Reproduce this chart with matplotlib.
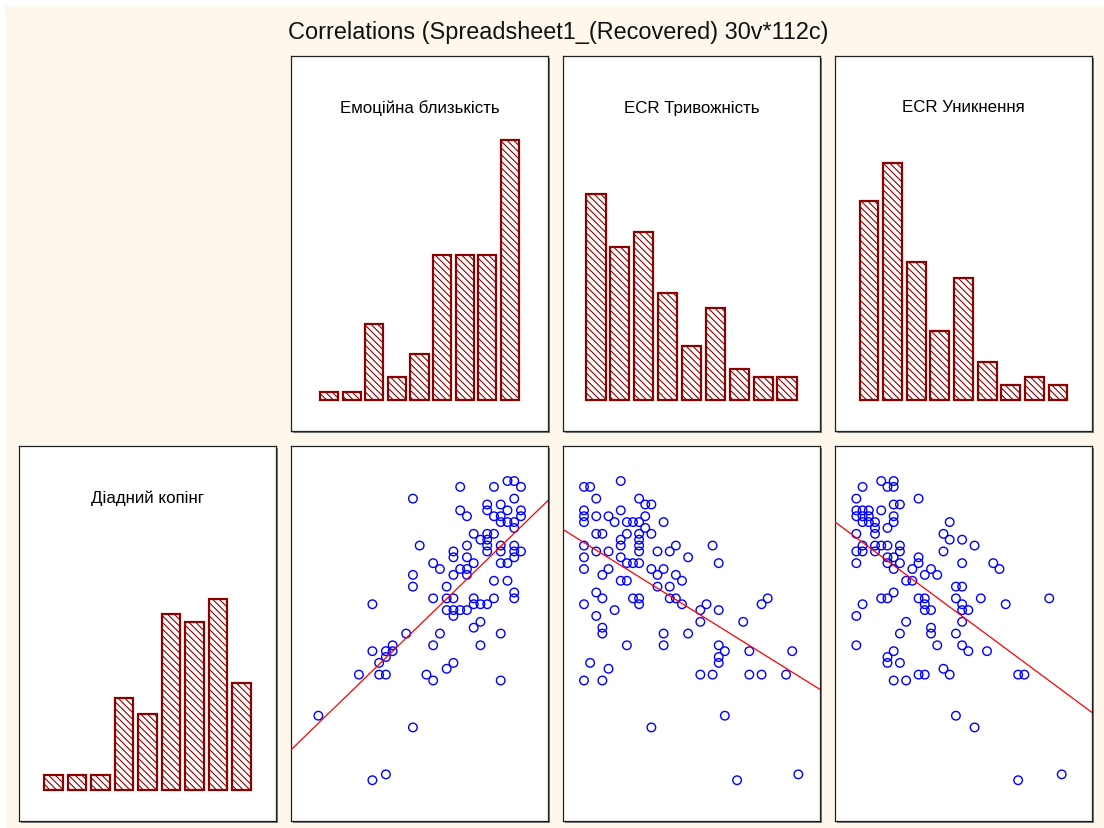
import numpy as np
import matplotlib
matplotlib.use("Agg")
import matplotlib.pyplot as plt
from matplotlib.patches import Rectangle

# ---------------- data ----------------
title = "Correlations (Spreadsheet1_(Recovered) 30v*112c)"
var_names = ["Емоційна близькість", "ECR Тривожність", "ECR Уникнення"]
y_name = "Діадний копінг"

# histogram counts (9 bins each)
emo_counts = [1, 1, 10, 3, 6, 19, 19, 19, 34]
anx_counts = [27, 20, 22, 14, 7, 12, 4, 3, 3]
avo_counts = [26, 31, 18, 9, 16, 5, 2, 3, 2]
dyad_counts = [2, 2, 2, 12, 10, 23, 22, 25, 14]

# scatter 1: Емоційна близькість (x) vs Діадний копінг (y, grid rows from top)
emo_x = [28, 29, 21, 26, 30, 14, 29, 25, 27, 21, 25, 28, 30, 22, 26, 27, 30, 27, 28, 29, 29,
         23, 25, 26, 24, 25, 15, 22, 25, 27, 29, 20, 25, 27, 29, 30, 20, 22, 29, 17, 23, 27, 28,
         18, 21, 22, 14, 20, 22, 26, 28, 14, 19, 29, 17, 19, 20, 23, 26, 29, 8, 23, 24, 25,
         19, 20, 21, 22, 20, 24, 23, 13, 18, 27, 11, 17, 24, 8, 10, 11, 10, 9, 20, 19,
         6, 9, 10, 16, 17, 27, 0, 14, 10, 8]
emo_row = [0, 0, 1, 1, 1, 3, 3, 4, 4, 5, 5, 5, 5, 6, 6, 6, 6, 7, 7, 7, 8,
           9, 9, 9, 10, 10, 11, 11, 11, 11, 11, 12, 12, 12, 12, 12, 13, 13, 13, 14, 14, 14, 14,
           15, 15, 15, 16, 16, 16, 17, 17, 18, 18, 19, 20, 20, 20, 20, 20, 20, 21, 21, 21, 21,
           22, 22, 22, 22, 23, 24, 25, 26, 26, 26, 28, 28, 28, 29, 29, 29, 30, 31, 31, 32,
           33, 33, 33, 33, 34, 34, 40, 42, 50, 51]

# scatter 2: ECR Тривожність (x) vs Діадний копінг
anx_x = [6, 0, 1, 2, 9, 10, 11, 0, 6, 0, 2, 4, 10, 0, 5, 7, 8, 9, 13, 10,
         2, 3, 7, 9, 11, 6, 9, 0, 6, 9, 15, 21, 2, 4, 9, 12, 14, 0, 6, 17,
         7, 8, 9, 22, 0, 4, 11, 13, 3, 12, 15, 6, 7, 16, 12, 14, 2,
         3, 8, 9, 14, 15, 30, 0, 9, 16, 20, 29, 5, 19, 22, 2, 19, 26, 3, 3, 13, 17,
         7, 13, 22, 23, 27, 34, 22, 1, 22, 4, 19, 21, 27, 29, 33, 0, 3, 23, 11, 35, 25]
anx_row = [0, 1, 1, 3, 3, 4, 4, 5, 5, 6, 6, 6, 6, 7, 7, 7, 7, 7, 7, 8,
           9, 9, 9, 9, 9, 10, 10, 11, 11, 11, 11, 11, 12, 12, 12, 12, 12, 13, 13, 13,
           14, 14, 14, 14, 15, 15, 15, 15, 16, 16, 16, 17, 17, 17, 18, 18, 19,
           20, 20, 20, 20, 20, 20, 21, 21, 21, 21, 21, 22, 22, 22, 23, 24, 24, 25, 26, 26, 26,
           28, 28, 28, 29, 29, 29, 30, 31, 31, 32, 33, 33, 33, 33, 33, 34, 34, 40, 42, 50, 51]

# scatter 3: ECR Уникнення (x) vs Діадний копінг
avo_x = [4, 6, 1, 5, 6, 0, 10, 6, 7, 0, 1, 2, 4, 0, 1, 2, 6, 1, 2, 3, 6, 15, 3, 5,
         0, 3, 14, 15, 17, 1, 3, 4, 5, 7, 19, 0, 1, 3, 7, 14, 5, 6, 10, 0, 5, 7, 10, 17, 22,
         6, 9, 12, 23, 11, 13, 8, 9, 16, 17, 6, 4, 5, 10, 11, 16, 20, 31, 1, 11, 17, 24,
         11, 12, 17, 18, 0, 8, 17, 12, 7, 12, 16, 0, 13, 17, 6, 18, 21, 5, 5, 7, 14,
         10, 11, 15, 26, 27, 6, 8, 16, 19, 33, 26]
avo_row = [0, 0, 1, 1, 1, 3, 3, 4, 4, 5, 5, 5, 5, 6, 6, 6, 6, 7, 7, 7, 7, 7, 8, 8,
           9, 9, 9, 10, 10, 11, 11, 11, 11, 11, 11, 12, 12, 12, 12, 12, 13, 13, 13, 14, 14, 14, 14, 14, 14,
           15, 15, 15, 15, 16, 16, 17, 17, 18, 18, 19, 20, 20, 20, 20, 20, 20, 20, 21, 21, 21, 21,
           22, 22, 22, 22, 23, 24, 24, 25, 26, 26, 26, 28, 28, 28, 29, 29, 29, 30, 31, 31, 32,
           33, 33, 33, 33, 33, 34, 34, 40, 42, 50, 51]

# ---------------- style ----------------
W, H = 1104, 829
BG = "#FEF8EC"
BAR_EDGE = "#8B0000"
plt.rcParams["font.family"] = ["Liberation Sans", "DejaVu Sans"]
plt.rcParams["hatch.linewidth"] = 0.8
plt.rcParams["hatch.color"] = BAR_EDGE

fig = plt.figure(figsize=(W / 100, H / 100), dpi=100, facecolor="white")
fig.patches.append(Rectangle((5 / W, 0), 1, 1 - 7 / H, transform=fig.transFigure,
                             facecolor=BG, edgecolor="none", zorder=-10))

cols = [19, 291, 563, 835]
pw, ph = 257, 375
rows = {"top": 57, "bottom": 447}


def make_ax(px, py):
    # shadow
    fig.patches.append(Rectangle(((px + 2) / W, 1 - (py + ph + 2) / H), pw / W, ph / H,
                                 transform=fig.transFigure, facecolor="#7a7a7a",
                                 edgecolor="none", zorder=-5))
    ax = fig.add_axes([px / W, 1 - (py + ph) / H, pw / W, ph / H])
    ax.set_facecolor("white")
    for s in ax.spines.values():
        s.set_color("#202020")
        s.set_linewidth(0.9)
    ax.set_xticks([])
    ax.set_yticks([])
    return ax


def hist_panel(ax, counts, label, half):
    pos = np.arange(len(counts))
    ax.bar(pos, counts, width=0.8, facecolor="white", edgecolor=BAR_EDGE,
           hatch="\\\\\\\\\\", linewidth=1.6)
    ax.set_xlim(4 - half, 4 + half)
    ax.set_ylim(-4.06, 45.0)
    ax.text(0.5, 1 - 51 / ph, label, transform=ax.transAxes, ha="center",
            va="center", fontsize=12.2, color="black")


def scatter_panel(ax, xs, rows_, xlim):
    xs = np.asarray(xs, float)
    ys = 51 - np.asarray(rows_, float)
    ax.scatter(xs, ys, s=38, facecolors="none", edgecolors="#0000FF", linewidths=1.0, zorder=3)
    k, b = np.polyfit(xs, ys, 1)
    xx = np.array(xlim)
    ax.plot(xx, k * xx + b, color="#FF0000", linewidth=0.9, zorder=4)
    ax.set_xlim(*xlim)
    ax.set_ylim(-6.95, 56.97)


# top histograms
hist_panel(make_ax(cols[1], rows["top"]), emo_counts, var_names[0], 5.71)
hist_panel(make_ax(cols[2], rows["top"]), anx_counts, var_names[1], 5.38)
hist_panel(make_ax(cols[3], rows["top"]), avo_counts, var_names[2], 5.44)

# bottom-left histogram
hist_panel(make_ax(cols[0], rows["bottom"]), dyad_counts, y_name, 5.47)

# scatter panels
scatter_panel(make_ax(cols[1], rows["bottom"]), emo_x, emo_row, (-4.05, 34.0))
scatter_panel(make_ax(cols[2], rows["bottom"]), anx_x, anx_row, (-3.43, 38.54))
scatter_panel(make_ax(cols[3], rows["bottom"]), avo_x, avo_row, (-3.43, 37.87))

fig.text(558 / W, 1 - 33 / H, title, ha="center", va="center", fontsize=16.9, color="#111111")

fig.savefig("out.png", dpi=100, facecolor=fig.get_facecolor())
